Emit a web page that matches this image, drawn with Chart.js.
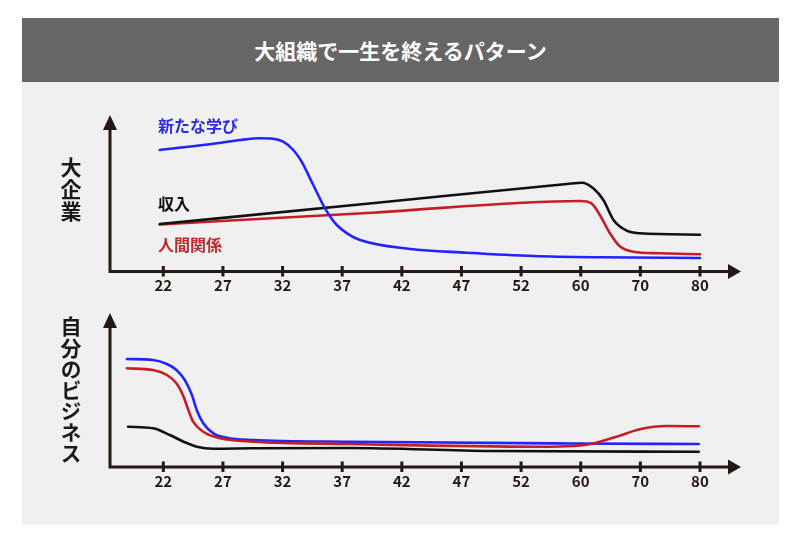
<!DOCTYPE html>
<html lang="ja">
<head>
<meta charset="utf-8">
<script src="https://cdn.jsdelivr.net/npm/chart.js@4.4.1/dist/chart.umd.min.js"></script>
<style>
  body { margin: 0; width: 800px; height: 547px; background: #fff; position: relative; overflow: hidden;
         font-family: "Noto Sans CJK JP", "Noto Sans", sans-serif; }
  .panel { position: absolute; left: 22px; top: 18px; width: 757px; height: 507px; background: #f0f0f0; }
  .titlebar { position: absolute; left: 22px; top: 18px; width: 757px; height: 64px; background: #666;
              color: #fff; font-size: 21px; font-weight: bold; line-height: 64px; text-align: center; }
  canvas { position: absolute; left: 22px; }
  .lbl { position: absolute; font-size: 16px; font-weight: bold; line-height: 20px; white-space: nowrap; }
  .vlbl { position: absolute; writing-mode: vertical-rl; text-orientation: upright; font-size: 21px;
          font-weight: bold; line-height: 24px; color: #1a1a1a; white-space: nowrap; }
</style>
</head>
<body>
<div class="panel"></div>
<div class="titlebar">大組織で一生を終えるパターン</div>

<canvas id="corpChart" width="757" height="218" style="top:82px;width:757px;height:218px"></canvas>
<canvas id="selfChart" width="757" height="210" style="top:300px;width:757px;height:210px"></canvas>

<div class="vlbl" style="left:59px;top:157px;letter-spacing:0.8px">大企業</div>
<div class="vlbl" style="left:59px;top:316px;letter-spacing:0.1px">自分のビジネス</div>

<div class="lbl" style="left:158px;top:115px;color:#2b2be6">新たな学び</div>
<div class="lbl" style="left:158px;top:193px;color:#111">収入</div>
<div class="lbl" style="left:158px;top:234px;color:#c0282d">人間関係</div>

<script>
// age ticks, evenly spaced along the axis (x values below are tick-slot positions)
const tickLabels = ["22", "27", "32", "37", "42", "47", "52", "60", "70", "80"];

// 大企業
const corpLearnX = [-0.06, 0.9, 1.29, 1.62, 1.84, 2.01, 2.18, 2.32, 2.46, 2.57, 2.68, 2.8, 2.91, 3.08, 3.3, 4.14, 5.09, 6.2, 7.32, 9.0];
const corpLearnY = [121.5, 128.2, 131.5, 133.2, 132.8, 129.8, 121.5, 109.8, 93.2, 79.8, 66.5, 54.8, 46.5, 38.2, 31.5, 22.5, 18.8, 15.5, 14.2, 13.5];
const corpIncomeX = [-0.06, 3.5, 6.77, 7.02, 7.21, 7.38, 7.55, 7.77, 7.99, 9.0];
const corpIncomeY = [47.5, 68.2, 87.5, 88.8, 83.2, 71.5, 51.5, 40.8, 38.2, 36.8];
const corpPeopleX = [-0.06, 3.5, 6.99, 7.18, 7.32, 7.49, 7.65, 7.88, 8.33, 9.0];
const corpPeopleY = [47.0, 58.8, 70.5, 68.2, 56.5, 38.2, 25.5, 19.8, 18.2, 17.2];

// 自分のビジネス
const selfLearnX = [-0.61, -0.17, 0.06, 0.22, 0.36, 0.48, 0.56, 0.67, 0.84, 1.06, 1.51, 3.13, 6.87, 8.98];
const selfLearnY = [108, 107, 103, 97, 87, 72, 57, 43.7, 33.7, 29.3, 27, 25.3, 23.5, 23];
const selfIncomeX = [-0.59, -0.17, 0.11, 0.34, 0.56, 0.84, 1.51, 3.13, 5.48, 8.98];
const selfIncomeY = [40.3, 38.7, 32, 25.3, 20.3, 18.3, 18.7, 19, 16, 15.3];
const selfPeopleX = [-0.61, -0.17, 0.06, 0.22, 0.34, 0.42, 0.5, 0.67, 0.95, 1.51, 3.13, 6.32, 6.87, 7.16, 7.6, 7.99, 8.44, 8.98];
const selfPeopleY = [98.7, 97, 92, 83.7, 70.3, 57, 45.3, 35.3, 28.7, 25.3, 23, 20.3, 21, 23, 30.3, 37.7, 41, 40.7];

const BLUE = "#2323ff";
const RED = "#c41e26";
const BLACK = "#111111";
const AXIS = "#231815";

function pts(xs, ys) {
  return xs.map((x, i) => ({ x: x, y: ys[i] }));
}

function line(xs, ys, color) {
  return {
    data: pts(xs, ys),
    borderColor: color,
    borderWidth: 2.6,
    pointRadius: 0,
    fill: false,
    cubicInterpolationMode: "monotone",
    borderCapStyle: "round"
  };
}

const arrowAxes = {
  id: "arrowAxes",
  afterDraw(chart) {
    const { ctx, chartArea: { left, right, top, bottom }, scales: { x } } = chart;
    ctx.save();
    ctx.strokeStyle = AXIS;
    ctx.fillStyle = AXIS;
    ctx.lineWidth = 3;
    ctx.beginPath();
    ctx.moveTo(left, bottom + 1.5);
    ctx.lineTo(left, top + 12);
    ctx.moveTo(left - 1.5, bottom);
    ctx.lineTo(right - 11, bottom);
    ctx.stroke();

    ctx.beginPath();
    ctx.moveTo(left, top);
    ctx.lineTo(left - 7, top + 15);
    ctx.lineTo(left + 7, top + 15);
    ctx.closePath();
    ctx.moveTo(right, bottom);
    ctx.lineTo(right - 13, bottom - 7.5);
    ctx.lineTo(right - 13, bottom + 7.5);
    ctx.closePath();
    ctx.fill();

    ctx.font = "bold 15px 'Noto Sans CJK JP', 'Noto Sans', sans-serif";
    ctx.textAlign = "center";
    ctx.textBaseline = "middle";
    tickLabels.forEach((t, i) => {
      const px = x.getPixelForValue(i);
      ctx.beginPath();
      ctx.moveTo(px, bottom - 5.5);
      ctx.lineTo(px, bottom + 5);
      ctx.stroke();
      ctx.fillText(t, px, bottom + 14);
    });
    ctx.restore();
  }
};

function makeChart(id, datasets, yMax, padding) {
  return new Chart(document.getElementById(id), {
    type: "line",
    data: { datasets: datasets },
    options: {
      responsive: false,
      animation: false,
      layout: { padding: padding },
      plugins: { legend: { display: false }, tooltip: { enabled: false } },
      scales: {
        x: { type: "linear", min: -0.894, max: 9.688, display: false },
        y: { min: 0, max: yMax, display: false }
      }
    },
    plugins: [arrowAxes]
  });
}

makeChart("corpChart", [
  line(corpLearnX, corpLearnY, BLUE),
  line(corpIncomeX, corpIncomeY, BLACK),
  line(corpPeopleX, corpPeopleY, RED)
], 156.5, { left: 88, right: 38, top: 33, bottom: 28.5 });

makeChart("selfChart", [
  line(selfIncomeX, selfIncomeY, BLACK),
  line(selfPeopleX, selfPeopleY, RED),
  line(selfLearnX, selfLearnY, BLUE)
], 154, { left: 88, right: 38, top: 13, bottom: 43 });
</script>
</body>
</html>
